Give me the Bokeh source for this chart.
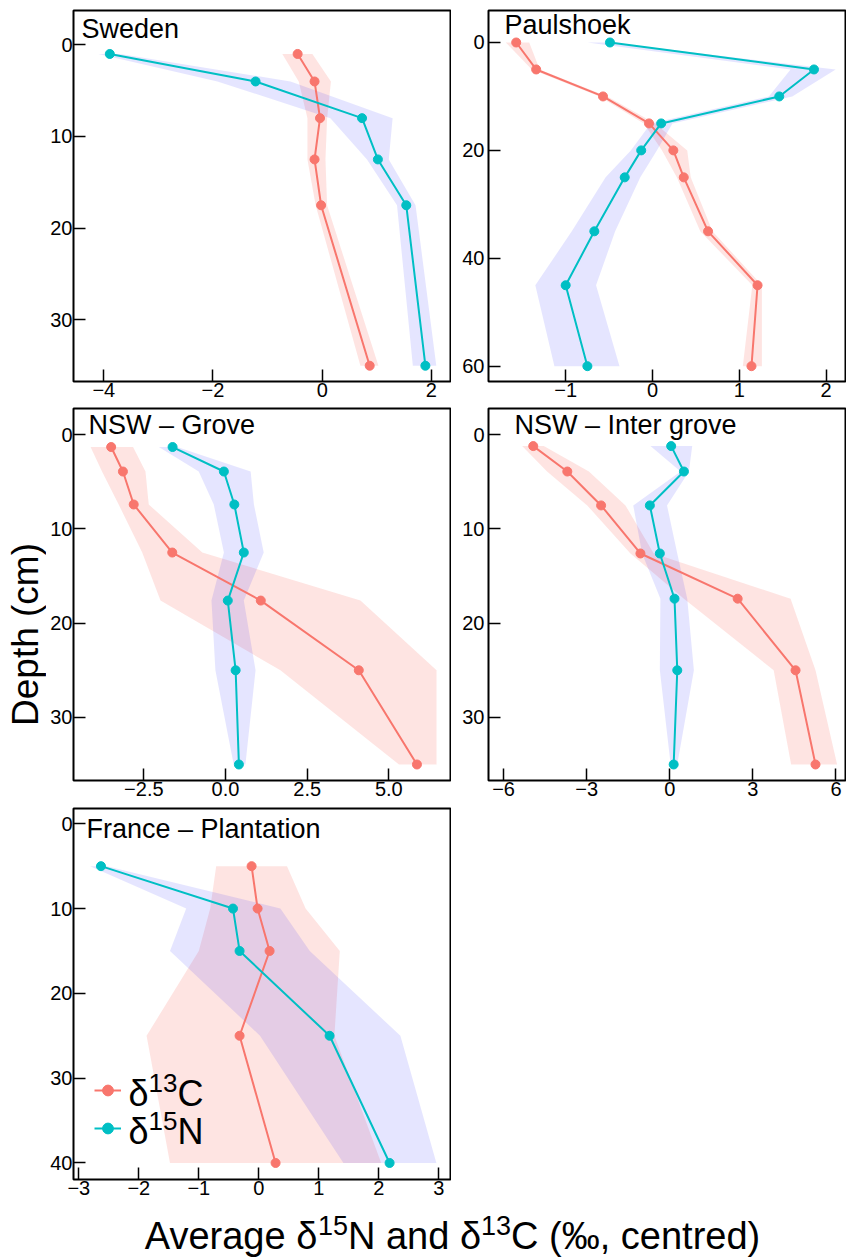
import math
from bokeh.plotting import figure
from bokeh.models import Range1d, FixedTicker, Label, Legend, LegendItem
from bokeh.layouts import row, column
from bokeh.embed import file_html
from bokeh.resources import INLINE

FONT = "Liberation Sans"
RED = "#F8766D"
TEAL = "#00BFC4"

# ---------------- data ----------------
# Sweden
sw_depth = [1, 4, 8, 12.5, 17.5, 35]
sw_c = [-0.45, -0.14, -0.04, -0.14, -0.02, 0.87]
sw_c_lo = [-0.73, -0.43, -0.27, -0.27, -0.12, 0.70]
sw_c_hi = [-0.18, 0.16, 0.09, 0.06, 0.09, 1.03]
sw_n = [-3.89, -1.22, 0.73, 1.02, 1.54, 1.89]
sw_n_lo = [-4.10, -1.92, 0.15, 0.82, 1.37, 1.66]
sw_n_hi = [-3.70, -0.58, 1.29, 1.22, 1.71, 2.09]

# Paulshoek
pa_depth = [0, 5, 10, 15, 20, 25, 35, 45, 60]
pa_c = [-1.57, -1.34, -0.57, -0.04, 0.24, 0.36, 0.64, 1.21, 1.14]
pa_c_lo = [-1.69, -1.39, -0.61, -0.10, 0.11, 0.28, 0.55, 1.15, 1.04]
pa_c_hi = [-1.42, -1.30, -0.52, 0.03, 0.40, 0.44, 0.69, 1.26, 1.26]
pa_n = [-0.49, 1.86, 1.46, 0.10, -0.13, -0.32, -0.67, -1.00, -0.75]
pa_n_lo = [-0.75, 1.59, 1.34, -0.02, -0.25, -0.54, -0.93, -1.35, -1.13]
pa_n_hi = [-0.49, 2.11, 1.61, 0.23, 0.05, -0.14, -0.43, -0.65, -0.38]

# NSW - Grove
gr_depth = [1.3, 3.9, 7.4, 12.5, 17.6, 25, 35]
gr_c = [-3.50, -3.14, -2.81, -1.63, 1.08, 4.08, 5.86]
gr_c_lo = [-4.13, -3.78, -3.27, -2.55, -1.99, 1.68, 5.31]
gr_c_hi = [-2.83, -2.45, -2.35, -0.71, 4.13, 6.46, 6.46]
gr_n = [-1.62, -0.05, 0.27, 0.56, 0.07, 0.31, 0.41]
gr_n_lo = [-2.04, -0.82, -0.36, -0.05, -0.43, -0.31, 0.25]
gr_n_hi = [-1.48, 0.77, 0.87, 1.17, 0.56, 0.92, 0.61]

# NSW - Inter grove
in_depth = [1.2, 3.9, 7.5, 12.6, 17.4, 25, 35]
in_c = [-4.93, -3.70, -2.48, -1.06, 2.45, 4.54, 5.26]
in_c_lo = [-5.33, -4.43, -2.98, -1.42, 0.51, 3.75, 4.38]
in_c_hi = [-4.55, -2.92, -1.60, -0.58, 4.36, 5.26, 6.04]
in_n = [0.05, 0.51, -0.72, -0.36, 0.17, 0.27, 0.14]
in_n_lo = [-0.70, 0.39, -1.32, -1.00, -0.34, -0.36, 0.03]
in_n_hi = [0.81, 0.69, -0.10, 0.27, 0.63, 0.87, 0.27]

# France - Plantation
fr_depth = [5, 10, 15, 25, 40]
fr_c = [-0.12, -0.02, 0.18, -0.32, 0.28]
fr_c_lo = [-0.71, -0.81, -1.00, -1.87, -1.48]
fr_c_hi = [0.47, 0.78, 1.35, 1.26, 2.04]
fr_n = [-2.63, -0.43, -0.32, 1.18, 2.18]
fr_n_lo = [-2.81, -1.21, -1.48, 0.02, 1.41]
fr_n_hi = [-2.53, 0.36, 0.85, 2.36, 2.96]

# ticks
sw_xticks = [-4, -2, 0, 2]
sw_xlabels = ["\u22124", "\u22122", "0", "2"]
sw_yticks = [0, 10, 20, 30]
sw_ylabels = ["0", "10", "20", "30"]
pa_xticks = [-1, 0, 1, 2]
pa_xlabels = ["\u22121", "0", "1", "2"]
pa_yticks = [0, 20, 40, 60]
pa_ylabels = ["0", "20", "40", "60"]
gr_xticks = [-2.5, 0, 2.5, 5]
gr_xlabels = ["\u22122.5", "0.0", "2.5", "5.0"]
gr_yticks = [0, 10, 20, 30]
gr_ylabels = ["0", "10", "20", "30"]
in_xticks = [-6, -3, 0, 3, 6]
in_xlabels = ["\u22126", "\u22123", "0", "3", "6"]
in_yticks = [0, 10, 20, 30]
in_ylabels = ["0", "10", "20", "30"]
fr_xticks = [-3, -2, -1, 0, 1, 2, 3]
fr_xlabels = ["\u22123", "\u22122", "\u22121", "0", "1", "2", "3"]
fr_yticks = [0, 10, 20, 30, 40]
fr_ylabels = ["0", "10", "20", "30", "40"]

titles = ["Sweden", "Paulshoek", "NSW \u2013 Grove", "NSW \u2013 Inter grove", "France \u2013 Plantation"]
# rich texts: (piece, is_superscript)
legend_c = [("\u03b4", False), ("13", True), ("C", False)]
legend_n = [("\u03b4", False), ("15", True), ("N", False)]
x_title = [("Average \u03b4", False), ("15", True), ("N and \u03b4", False), ("13", True),
           ("C (\u2030, centred)", False)]
y_title = "Depth (cm)"

# approximate advance widths (em/1000) of Liberation Sans, for laying out rich text
ADV = {" ": 278, "A": 667, "v": 500, "e": 556, "r": 333, "a": 556, "g": 556, "\u03b4": 556,
       "N": 722, "n": 556, "d": 556, "C": 722, "(": 333, ")": 333, "\u2030": 1000, ",": 278,
       "c": 500, "t": 278}
MID = 0.36  # distance baseline - box middle, in em


def text_width(s, size):
    return sum(ADV.get(ch, 556) for ch in s) * size / 1000.0


class Geo:
    """pixel box of a panel frame and its ranges"""
    def __init__(self, box, xr, yr):
        self.l, self.t, self.r, self.b = box
        self.x0, self.x1 = xr
        self.ytop, self.ybot = yr

    def x(self, px):
        return self.x0 + (px - self.l) / (self.r - self.l) * (self.x1 - self.x0)

    def y(self, py):
        return self.ytop + (py - self.t) / (self.b - self.t) * (self.ybot - self.ytop)


def panel(width, height, geo, borders, xt, xl, yt, yl):
    bl, bt, br, bb = borders
    p = figure(width=width, height=height,
               x_range=Range1d(geo.x0, geo.x1), y_range=Range1d(geo.ybot, geo.ytop),
               output_backend="svg", toolbar_location=None,
               min_border_left=bl, min_border_top=bt,
               min_border_right=br, min_border_bottom=bb)
    p.grid.visible = False
    p.outline_line_color = "black"
    p.outline_line_width = 2
    p.outline_line_alpha = 1
    p.background_fill_color = "white"
    p.border_fill_color = "white"
    for ax in list(p.xaxis) + list(p.yaxis):
        ax.axis_line_color = None
        ax.major_tick_in = 12
        ax.major_tick_out = 0
        ax.minor_tick_in = 0
        ax.minor_tick_out = 0
        ax.major_tick_line_color = "black"
        ax.major_tick_line_width = 1.5
        ax.major_label_text_font = FONT
        ax.major_label_text_font_size = "20px"
        ax.major_label_text_color = "black"
    p.xaxis.ticker = FixedTicker(ticks=xt)
    p.xaxis.major_label_overrides = dict(zip(xt, xl))
    p.xaxis.major_label_standoff = 1
    p.yaxis.ticker = FixedTicker(ticks=yt)
    p.yaxis.major_label_overrides = dict(zip(yt, yl))
    p.yaxis.major_label_standoff = 1
    return p


def draw(p, d, c, clo, chi, n, nlo, nhi):
    p.harea(y=d, x1=clo, x2=chi, fill_color=RED, fill_alpha=0.2)
    p.harea(y=d, x1=nlo, x2=nhi, fill_color="blue", fill_alpha=0.1)
    lc = p.line(x=c, y=d, line_color=RED, line_width=2)
    sc = p.scatter(x=c, y=d, size=9, fill_color=RED, line_color=RED)
    ln = p.line(x=n, y=d, line_color=TEAL, line_width=2)
    sn = p.scatter(x=n, y=d, size=9, fill_color=TEAL, line_color=TEAL)
    return (lc, sc), (ln, sn)


def rich(p, fx, fy, parts, px, py, size, sup_size=None, raise_px=0):
    """lay out text pieces (with superscripts) from page pixel baseline (px, py)"""
    x = px
    for s, sup in parts:
        fs = sup_size if sup else size
        base = py - raise_px if sup else py
        p.add_layout(Label(x=fx(x), y=fy(base - MID * fs), text=s, text_font=FONT,
                           text_font_size=f"{fs}px", text_align="left",
                           text_baseline="middle", text_color="black"))
        x += text_width(s, fs)


def title(p, geo, px, py, text):
    rich(p, geo.x, geo.y, [(text, False)], px, py, 27)


W_YL = 46
LW, RW = 405, 395
H1, H2, H3, HX = 405, 400, 398, 56
TOTAL_H = H1 + H2 + H3 + HX
BL = 73 - W_YL

g1 = Geo((73, 10, 450, 381), (-4.555, 2.35), (-3.74, 36.72))
g2 = Geo((488, 10, 845, 381), (-1.889, 2.223), (-5.93, 62.84))
g3 = Geo((73, 408, 450, 780), (-4.653, 6.887), (-2.79, 36.7))
g4 = Geo((488, 408, 845, 780), (-6.545, 6.343), (-2.79, 36.7))
g5 = Geo((73, 808, 450, 1179), (-3.088, 3.195), (-1.80, 41.95))

p1 = panel(LW, H1, g1, (BL, 10, 1, 24), sw_xticks, sw_xlabels, sw_yticks, sw_ylabels)
draw(p1, sw_depth, sw_c, sw_c_lo, sw_c_hi, sw_n, sw_n_lo, sw_n_hi)
title(p1, g1, 81, 38, titles[0])

p2 = panel(RW, H1, g2, (37, 10, 1, 24), pa_xticks, pa_xlabels, pa_yticks, pa_ylabels)
p2.yaxis.major_label_standoff = 4
draw(p2, pa_depth, pa_c, pa_c_lo, pa_c_hi, pa_n, pa_n_lo, pa_n_hi)
title(p2, g2, 504, 34, titles[1])

p3 = panel(LW, H2, g3, (BL, 3, 1, 25), gr_xticks, gr_xlabels, gr_yticks, gr_ylabels)
draw(p3, gr_depth, gr_c, gr_c_lo, gr_c_hi, gr_n, gr_n_lo, gr_n_hi)
title(p3, g3, 88, 434, titles[2])

p4 = panel(RW, H2, g4, (37, 3, 1, 25), in_xticks, in_xlabels, in_yticks, in_ylabels)
p4.yaxis.major_label_standoff = 4
draw(p4, in_depth, in_c, in_c_lo, in_c_hi, in_n, in_n_lo, in_n_hi)
title(p4, g4, 514, 434, titles[3])

p5 = panel(LW, H3, g5, (BL, 3, 1, 24), fr_xticks, fr_xlabels, fr_yticks, fr_ylabels)
rc, rn = draw(p5, fr_depth, fr_c, fr_c_lo, fr_c_hi, fr_n, fr_n_lo, fr_n_hi)
title(p5, g5, 86, 838, titles[4])

legend = Legend(items=[LegendItem(label=" ", renderers=list(rc)),
                       LegendItem(label=" ", renderers=list(rn))],
                location=(21, 32), orientation="vertical",
                label_text_font=FONT, label_text_font_size="10px",
                glyph_width=27, glyph_height=38, label_height=38, label_width=10,
                label_standoff=7, spacing=0, padding=0, margin=0,
                background_fill_alpha=0, border_line_color=None)
p5.add_layout(legend)
rich(p5, g5.x, g5.y, legend_c, 128, 1106, 36, 26, 14)
rich(p5, g5.x, g5.y, legend_n, 128, 1144, 36, 26, 14)

# y title (own narrow figure; ranges are page pixels)
ylab = figure(width=W_YL, height=TOTAL_H, x_range=Range1d(0, W_YL),
              y_range=Range1d(TOTAL_H, 10), output_backend="svg",
              toolbar_location=None, min_border_left=0, min_border_right=0,
              min_border_top=10, min_border_bottom=0,
              x_axis_location=None, y_axis_location=None)
ylab.outline_line_color = None
ylab.grid.visible = False
ylab.background_fill_color = "white"
ylab.border_fill_color = "white"
ylab.add_layout(Label(x=25, y=634, text=y_title, angle=math.pi / 2,
                      text_font=FONT, text_font_size="37px", text_align="center",
                      text_baseline="middle", text_color="black"))

# x title (ranges are page pixels)
top_y = H1 + H2 + H3
xlab = figure(width=LW + RW, height=HX, x_range=Range1d(73, 845),
              y_range=Range1d(TOTAL_H, top_y), output_backend="svg",
              toolbar_location=None, min_border_left=BL, min_border_right=1,
              min_border_top=0, min_border_bottom=0,
              x_axis_location=None, y_axis_location=None)
xlab.outline_line_color = None
xlab.grid.visible = False
xlab.background_fill_color = "white"
xlab.border_fill_color = "white"
total_w = sum(text_width(s, 27 if sup else 38) for s, sup in x_title)
rich(xlab, lambda px: px, lambda py: py, x_title, 452 - total_w / 2, 1249, 38, 27, 14)

layout = row(ylab, column(row(p1, p2), row(p3, p4), p5, xlab))

with open("out.html", "w") as f:
    f.write(file_html(layout, INLINE))
